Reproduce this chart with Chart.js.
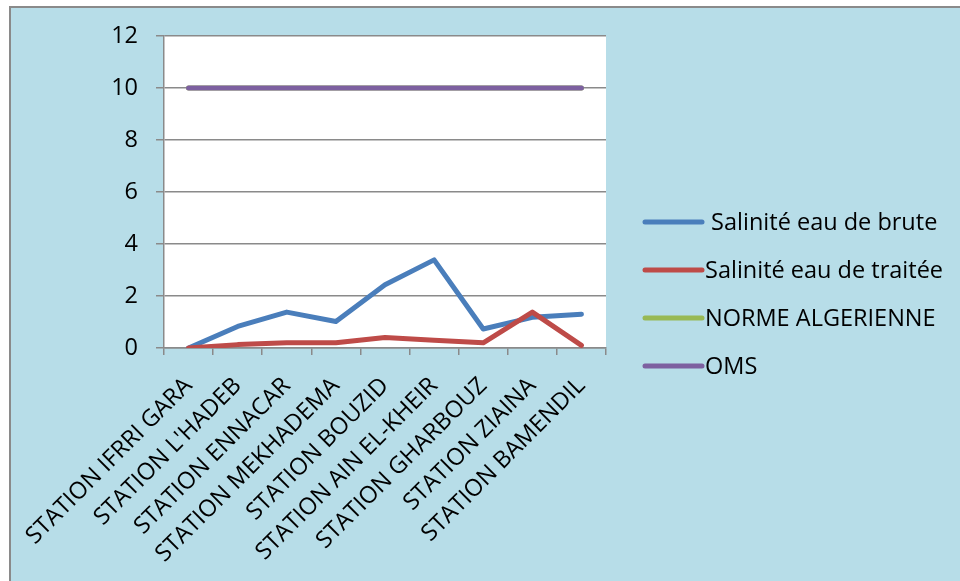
<!DOCTYPE html>
<html>
<head>
<meta charset="utf-8">
<script src="https://cdn.jsdelivr.net/npm/chart.js@4"></script>
<style>
  html, body { margin: 0; padding: 0; background: #fff; overflow: hidden; }
  #frame {
    position: absolute; left: 9px; top: 6px; width: 951px; height: 575px;
    background: #b7dde8; border-left: 2px solid #8a8a8a; border-top: 2px solid #8a8a8a;
  }
  canvas { display: block; }
</style>
</head>
<body>
<div id="frame"><canvas id="chart" width="949" height="573"></canvas></div>
<script>
const stations = [
  "STATION IFRRI GARA", "STATION L'HADEB", "STATION ENNACAR", "STATION MEKHADEMA",
  "STATION BOUZID", "STATION AIN EL-KHEIR", "STATION GHARBOUZ", "STATION ZIAINA", "STATION BAMENDIL"
];
const seriesNames = [" Salinité eau de brute", "Salinité eau de traitée", "NORME ALGERIENNE", "OMS"];
const bruteValues = [0, 0.83, 1.38, 1.02, 2.43, 3.39, 0.73, 1.18, 1.3];
const traiteeValues = [0, 0.13, 0.2, 0.2, 0.4, 0.3, 0.2, 1.38, 0.1];
const normeValues = [10, 10, 10, 10, 10, 10, 10, 10, 10];
const omsValues = [10, 10, 10, 10, 10, 10, 10, 10, 10];
const yMin = 0, yMax = 12, yStep = 2;

const colors = ["#4a7ebb", "#be4b48", "#98b954", "#7d60a0"];
const FONT = "'Open Sans', Lato, sans-serif";
const FONT_SIZE = 23.5;

// white plot area behind the lines
const plotBackground = {
  id: 'plotBackground',
  beforeDraw(chart) {
    const a = chart.chartArea, c = chart.ctx;
    c.save();
    c.fillStyle = '#ffffff';
    c.fillRect(a.left, a.top, a.right - a.left, a.bottom - a.top);
    c.restore();
  }
};

// legend on the right: line sample + label
const sideLegend = {
  id: 'sideLegend',
  afterDraw(chart) {
    const c = chart.ctx;
    const x0 = 634, x1 = 691, y0 = 214, gap = 48;
    c.save();
    c.font = FONT_SIZE + 'px ' + FONT;
    c.textBaseline = 'middle';
    c.fillStyle = '#000';
    chart.data.datasets.forEach((ds, i) => {
      const y = y0 + i * gap;
      c.strokeStyle = ds.borderColor;
      c.lineWidth = 5;
      c.lineCap = 'round';
      c.beginPath();
      c.moveTo(x0, y);
      c.lineTo(x1, y);
      c.stroke();
      c.fillText(ds.label, x1 + 3, y + 1);
    });
    c.restore();
  }
};

const makeSet = (i, values, order) => ({
  label: seriesNames[i],
  data: values,
  borderColor: colors[i],
  backgroundColor: colors[i],
  borderWidth: 5,
  borderCapStyle: 'round',
  borderJoinStyle: 'round',
  pointRadius: 0,
  tension: 0,
  order: order
});

new Chart(document.getElementById('chart').getContext('2d'), {
  type: 'line',
  data: {
    labels: stations,
    datasets: [
      makeSet(0, bruteValues, 2),
      makeSet(1, traiteeValues, 1),
      makeSet(2, normeValues, 3),
      makeSet(3, omsValues, 0)
    ]
  },
  options: {
    responsive: false,
    devicePixelRatio: 1,
    animation: false,
    layout: { padding: { top: 28, right: 354, bottom: 0, left: 0 } },
    plugins: { legend: { display: false }, tooltip: { enabled: false } },
    scales: {
      x: {
        offset: true,
        grid: { offset: true, drawOnChartArea: false, tickLength: 7, color: '#8a8a8a', lineWidth: 1.5 },
        border: { color: '#8a8a8a', width: 1.5 },
        ticks: {
          color: '#000', minRotation: 45, maxRotation: 45, autoSkip: false, padding: 17,
          font: { family: FONT, size: FONT_SIZE }
        },
        afterFit(scale) {
          scale.height = 233;
          scale.paddingLeft = 0;
          scale.paddingRight = 0;
        }
      },
      y: {
        min: yMin, max: yMax,
        grid: { color: '#8a8a8a', lineWidth: 1.5, tickLength: 8 },
        border: { color: '#8a8a8a', width: 1.5 },
        ticks: { stepSize: yStep, color: '#000', padding: 18, font: { family: FONT, size: FONT_SIZE } },
        afterFit(scale) {
          scale.width = 153;
          scale.paddingTop = 0;
          scale.paddingBottom = 0;
        }
      }
    }
  },
  plugins: [plotBackground, sideLegend]
});
</script>
</body>
</html>
